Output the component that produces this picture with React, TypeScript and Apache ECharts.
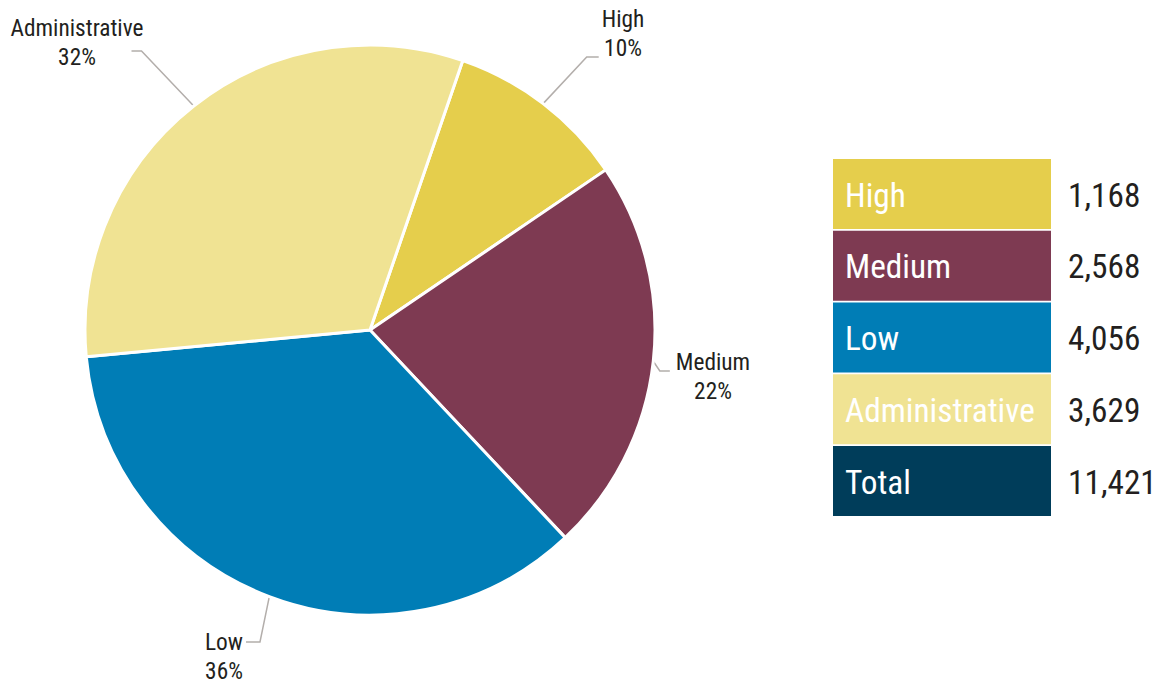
import React, { useEffect, useRef } from "react";
import * as echarts from "echarts";

// ---- data ----
const categories = ["High", "Medium", "Low", "Administrative"];
const values = [1168, 2568, 4056, 3629];
const colors = ["#E5CE4C", "#7E3A52", "#007DB6", "#F0E393"];
const totalLabel = "Total";
const totalColor = "#003D5A";

// ---- layout config (label centres, connector anchors, legend table placement) ----
const LABEL_CENTER: Record<string, [number, number]> = {
  High: [623, 33],
  Medium: [713, 376],
  Low: [224, 656],
  Administrative: [77, 42],
};
// connector end: side of the label block, horizontal gap from block edge, vertical offset from block centre, elbow length
const CONNECTOR: Record<string, { side: "left" | "right"; gap: number; dy: number; elbow: number }> = {
  High: { side: "left", gap: 3, dy: 24, elbow: 12 },
  Medium: { side: "left", gap: 6, dy: -5, elbow: 10 },
  Low: { side: "right", gap: 3, dy: -14, elbow: 14 },
  Administrative: { side: "right", gap: -12, dy: 9, elbow: 10 },
};
const TABLE = { x: 833, y: 159, w: 218, h: 70, pitch: 71.75, textPad: 12, valueX: 1068 };

function pickFont(): { family: string; labelSize: number; legendSize: number } {
  const canvas = document.createElement("canvas");
  const ctx = canvas.getContext("2d");
  const sample = "Administrative 1,168";
  const fallbackFamily = "'Liberation Sans', Arial, sans-serif";
  if (!ctx) return { family: fallbackFamily, labelSize: 22, legendSize: 31 };
  const w = (font: string) => {
    ctx.font = font;
    return ctx.measureText(sample).width;
  };
  const base = w("40px monospace");
  const narrow = ["Roboto Condensed", "Liberation Sans Narrow", "Arial Narrow", "Archivo Narrow"];
  let family = fallbackFamily;
  for (const f of narrow) {
    if (Math.abs(w(`40px '${f}', monospace`) - base) > 0.5) {
      family = `'${f}', ${fallbackFamily}`;
      break;
    }
  }
  ctx.font = `100px ${family}`;
  const per100 = ctx.measureText("Administrative").width;
  const labelSize = Math.min(26, (133 / per100) * 100);
  const legendSize = Math.min(37, (190 / per100) * 100);
  return { family, labelSize, legendSize };
}

export default function App() {
  const ref = useRef<HTMLDivElement>(null);

  useEffect(() => {
    document.body.style.margin = "0";
    if (!ref.current) return;
    const { family, labelSize, legendSize } = pickFont();
    const chart = echarts.init(ref.current, null, { renderer: "svg" });

    const total = values.reduce((a, b) => a + b, 0);
    const rows = [
      ...categories.map((c, i) => ({ label: c, value: values[i], color: colors[i] })),
      { label: totalLabel, value: total, color: totalColor },
    ];
    const fmt = (v: number) => v.toLocaleString("en-US");

    const graphics: any[] = [];
    rows.forEach((r, i) => {
      const top = TABLE.y + i * TABLE.pitch;
      graphics.push({
        type: "rect",
        shape: { x: TABLE.x, y: top, width: TABLE.w, height: TABLE.h },
        style: { fill: r.color },
        silent: true,
      });
      graphics.push({
        type: "text",
        x: TABLE.x + TABLE.textPad,
        y: top + TABLE.h / 2 + 1,
        style: {
          text: r.label,
          fill: "#ffffff",
          fontSize: legendSize,
          fontFamily: family,
          align: "left",
          verticalAlign: "middle",
        },
        silent: true,
      });
      graphics.push({
        type: "text",
        x: TABLE.valueX,
        y: top + TABLE.h / 2 + 1,
        style: {
          text: fmt(r.value),
          fill: "#231f20",
          fontSize: legendSize,
          fontFamily: family,
          align: "left",
          verticalAlign: "middle",
        },
        silent: true,
      });
    });

    chart.setOption({
      animation: false,
      backgroundColor: "#ffffff",
      graphic: graphics,
      series: [
        {
          type: "pie",
          center: [370, 330],
          radius: 285,
          startAngle: 71,
          clockwise: true,
          avoidLabelOverlap: false,
          itemStyle: { borderColor: "#ffffff", borderWidth: 3 },
          label: {
            show: true,
            position: "outside",
            color: "#231f20",
            fontSize: labelSize,
            lineHeight: 29,
            fontFamily: family,
            formatter: (p: any) => `${p.name}\n${Math.round(p.percent)}%`,
          },
          labelLine: {
            show: true,
            length: 20,
            length2: 10,
            lineStyle: { color: "#b3aeab", width: 1.5 },
          },
          labelLayout: (params: any) => {
            const name = categories[params.dataIndex];
            const c = LABEL_CENTER[name];
            const k = CONNECTOR[name];
            const half = params.labelRect.width / 2;
            const p0 = params.labelLinePoints ? params.labelLinePoints[0] : [c[0], c[1]];
            const ex = k.side === "left" ? c[0] - half - k.gap : c[0] + half + k.gap;
            const ey = c[1] + k.dy;
            const bx = k.side === "left" ? ex - k.elbow : ex + k.elbow;
            return {
              x: c[0],
              y: c[1],
              align: "center",
              verticalAlign: "middle",
              labelLinePoints: [
                [p0[0], p0[1]],
                [bx, ey],
                [ex, ey],
              ],
            };
          },
          emphasis: { disabled: true },
          data: categories.map((c, i) => ({
            name: c,
            value: values[i],
            itemStyle: { color: colors[i] },
          })),
        },
      ],
    });

    return () => chart.dispose();
  }, []);

  return <div ref={ref} style={{ width: 1168, height: 685 }} />;
}
